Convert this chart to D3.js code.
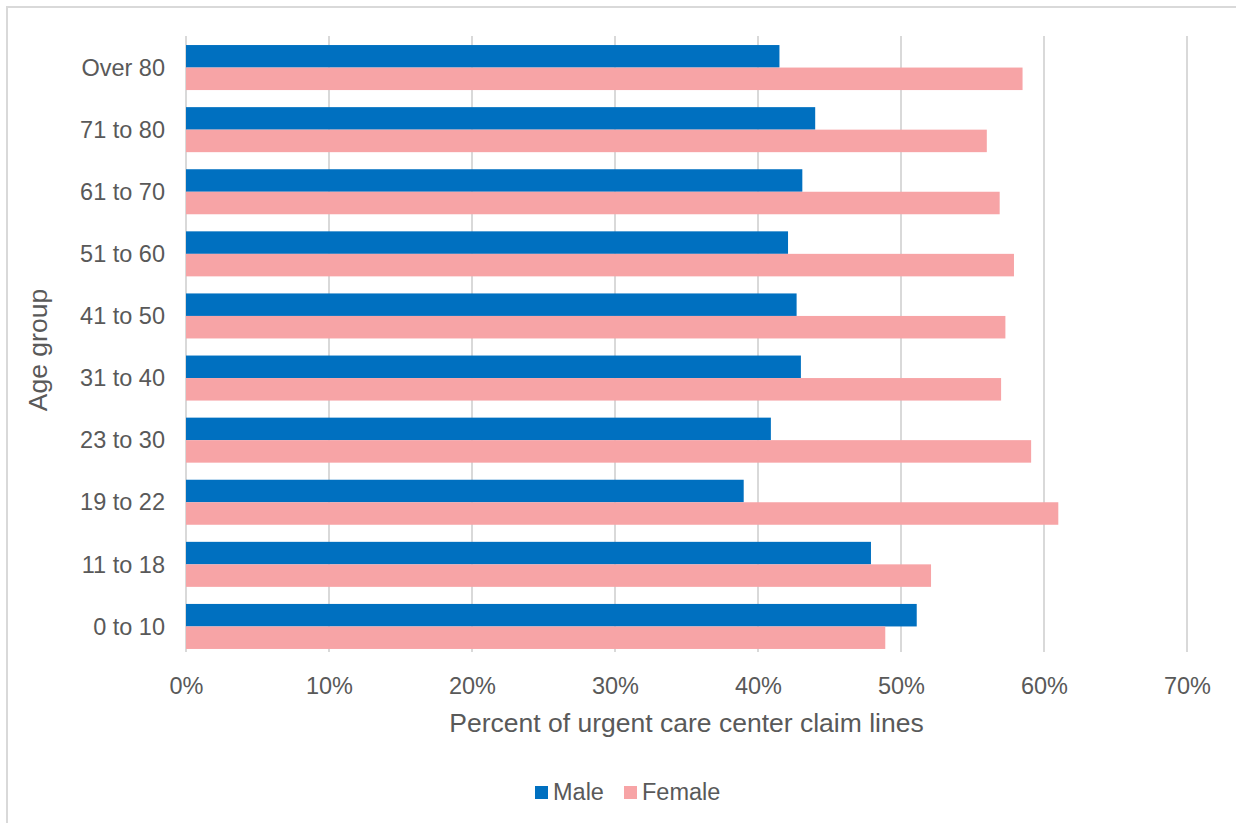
<!DOCTYPE html>
<html>
<head>
<meta charset="utf-8">
<script src="https://cdn.jsdelivr.net/npm/d3@7"></script>
<style>
  html, body { margin: 0; padding: 0; background: #fff; }
  svg { display: block; font-family: "Liberation Sans", Arial, sans-serif; }
</style>
</head>
<body>
<svg id="chart" width="1236" height="823"></svg>
<script>
const categories = ["Over 80", "71 to 80", "61 to 70", "51 to 60", "41 to 50", "31 to 40", "23 to 30", "19 to 22", "11 to 18", "0 to 10"];
const seriesNames = ["Male", "Female"];
const maleValues   = [41.5, 44.0, 43.1, 42.1, 42.7, 43.0, 40.9, 39.0, 47.9, 51.1];
const femaleValues = [58.5, 56.0, 56.9, 57.9, 57.3, 57.0, 59.1, 61.0, 52.1, 48.9];
const xTicks = [0, 10, 20, 30, 40, 50, 60, 70];
const colors = ["#0070C0", "#F7A4A6"];
const xTitle = "Percent of urgent care center claim lines";
const yTitle = "Age group";

const svg = d3.select("#chart");
const textColor = "#595959";

// outer frame (extends beyond window on right/bottom)
svg.append("rect")
  .attr("x", 7).attr("y", 7).attr("width", 1300).attr("height", 900)
  .attr("fill", "none").attr("stroke", "#d9d9d9").attr("stroke-width", 2);

const plot = { left: 186, right: 1187, top: 36, bottom: 652 };

const x = d3.scaleLinear().domain([0, 70]).range([plot.left, plot.right]);
const y = d3.scaleBand().domain(categories).range([36.5, 657.5])
  .paddingInner(0.275).paddingOuter(0.1375);
const ySub = d3.scaleBand().domain(seriesNames).range([0, y.bandwidth()]);

// gridlines
const grid = svg.append("g");
grid.selectAll("line").data(xTicks).join("line")
  .attr("x1", d => x(d)).attr("x2", d => x(d))
  .attr("y1", plot.top).attr("y2", plot.bottom)
  .attr("stroke", "#d9d9d9").attr("stroke-width", 2);

// bars
const data = categories.map((c, i) => ({ cat: c, vals: [maleValues[i], femaleValues[i]] }));
const groups = svg.append("g").selectAll("g").data(data).join("g")
  .attr("transform", d => `translate(0,${y(d.cat)})`);
groups.selectAll("rect").data(d => d.vals.map((v, j) => ({ v, s: seriesNames[j], j })))
  .join("rect")
  .attr("x", x(0))
  .attr("y", d => ySub(d.s))
  .attr("width", d => x(d.v) - x(0))
  .attr("height", ySub.bandwidth())
  .attr("fill", d => colors[d.j]);

// x axis tick labels
const xAxis = d3.axisBottom(x).tickValues(xTicks).tickFormat(d => d + "%").tickSize(0).tickPadding(0);
const xg = svg.append("g").attr("transform", `translate(0,${plot.bottom})`).call(xAxis);
xg.select(".domain").remove();
xg.selectAll("text")
  .attr("dy", null).attr("y", 42)
  .attr("fill", textColor).style("font-size", "23.5px")
  .style("font-family", '"Liberation Sans", Arial, sans-serif');

// y axis labels
const yAxis = d3.axisLeft(y).tickSize(0).tickPadding(0);
const yg = svg.append("g").attr("transform", `translate(${plot.left - 21},0)`).call(yAxis);
yg.select(".domain").remove();
yg.selectAll("text")
  .attr("dy", "0.35em")
  .attr("fill", textColor).style("font-size", "23.5px")
  .style("font-family", '"Liberation Sans", Arial, sans-serif');

// axis titles
svg.append("text")
  .attr("x", (plot.left + plot.right) / 2).attr("y", 732)
  .attr("text-anchor", "middle").attr("fill", textColor)
  .style("font-size", "26.5px").text(xTitle);

svg.append("text")
  .attr("transform", `translate(47,350) rotate(-90)`)
  .attr("text-anchor", "middle").attr("fill", textColor)
  .style("font-size", "26.5px").text(yTitle);

// legend
const legendItems = [
  { name: seriesNames[0], color: colors[0], sx: 535, tx: 553 },
  { name: seriesNames[1], color: colors[1], sx: 624, tx: 642 }
];
const lg = svg.append("g");
legendItems.forEach(it => {
  lg.append("rect").attr("x", it.sx).attr("y", 786).attr("width", 13).attr("height", 13).attr("fill", it.color);
  lg.append("text").attr("x", it.tx).attr("y", 800).attr("fill", textColor)
    .style("font-size", "23.5px").text(it.name);
});
</script>
</body>
</html>
